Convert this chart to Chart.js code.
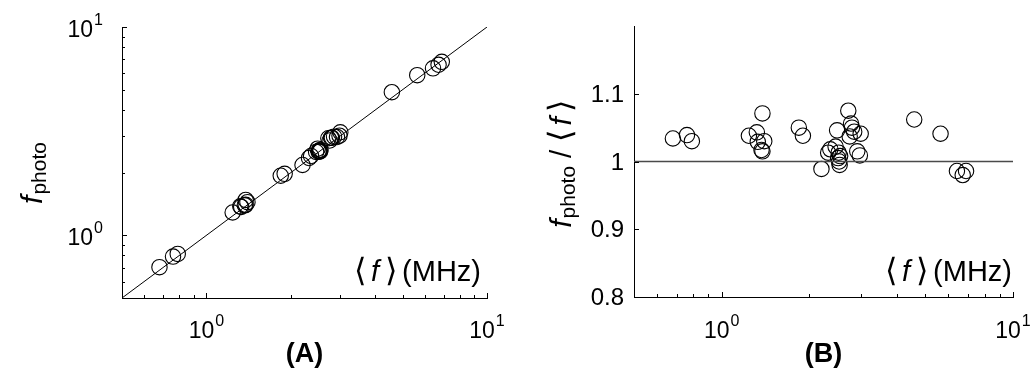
<!DOCTYPE html>
<html>
<head>
<meta charset="utf-8">
<script src="https://cdn.jsdelivr.net/npm/chart.js@4.4.1/dist/chart.umd.min.js"></script>
<style>
  html, body { margin: 0; padding: 0; background: #ffffff; }
  #wrap { position: relative; width: 1034px; height: 378px; overflow: hidden; }
  .panel { position: absolute; top: 0; height: 378px; }
</style>
</head>
<body>
<div id="wrap">
  <div class="panel" style="left:0;width:520px;"><canvas id="chartA" width="520" height="378"></canvas></div>
  <div class="panel" style="left:520px;width:514px;"><canvas id="chartB" width="514" height="378"></canvas></div>
</div>
<script>
// ---------------- data ----------------
// mean frequency <f> in MHz
const meanFreq = [0.68, 0.76, 0.79, 1.24, 1.32, 1.33, 1.38, 1.40, 1.37, 1.38,
                  1.84, 1.90, 2.20, 2.32, 2.36, 2.46, 2.49, 2.51, 2.53, 2.54,
                  2.55, 2.52, 2.72, 2.78, 2.80, 2.75, 2.85, 3.00, 2.92, 2.98,
                  4.58, 5.64, 6.42, 6.72, 6.90];
// f_photo in MHz (panel A)
const fPhoto = [0.703, 0.790, 0.814, 1.287, 1.377, 1.369, 1.478, 1.442, 1.393, 1.401,
                1.932, 1.972, 2.176, 2.350, 2.402, 2.514, 2.605, 2.523, 2.530, 2.527,
                2.570, 2.553, 2.924, 2.936, 2.940, 2.852, 2.975, 3.123, 2.964, 3.007,
                4.864, 5.871, 6.330, 6.586, 6.803];
// f_photo / <f> (panel B)
const ratio = [1.034, 1.039, 1.030, 1.038, 1.043, 1.029, 1.071, 1.030, 1.017, 1.015,
               1.050, 1.038, 0.989, 1.013, 1.018, 1.022, 1.046, 1.005, 1.000, 0.995,
               1.008, 1.013, 1.075, 1.056, 1.050, 1.037, 1.044, 1.041, 1.015, 1.009,
               1.062, 1.041, 0.986, 0.980, 0.986];

// identity line (panel A) and unity line (panel B)
const identityLine = [0.5, 10];
const unityLineX = [0.5, 10];
const unityLineY = [1, 1];

// axis ranges
const logRange = [0.5, 10];
const ratioRange = [0.8, 1.2];

// ticks
const logMinorTicks = [0.5, 0.6, 0.7, 0.8, 0.9, 2, 3, 4, 5, 6, 7, 8, 9];
const logMajorTicks = [1, 10];
const logTickBase = ['10', '10'];
const logTickExp = ['0', '1'];
const ratioTicks = [0.8, 0.9, 1, 1.1];
const ratioTickLabels = ['0.8', '0.9', '1', '1.1'];

// texts
const panelLabels = ['(A)', '(B)'];
const xAnnotation = { open: '\u27E8', f: 'f', close: '\u27E9', unit: '(MHz)' };
const yTitleA = { f: 'f', sub: 'photo' };
const yTitleB = { f: 'f', sub: 'photo', slash: '/', open: '\u27E8', f2: 'f', close: '\u27E9' };

// ---------------- helpers ----------------
const FONT = '"Liberation Sans", Arial, Helvetica, sans-serif';
const toXY = (xs, ys) => xs.map((x, i) => ({ x: x, y: ys[i] }));

function drawPow(ctx, base, exp, x, y, align) {
  ctx.font = '23px ' + FONT;
  const wb = ctx.measureText(base).width;
  ctx.font = '16px ' + FONT;
  const we = ctx.measureText(exp).width;
  const total = wb + we + 1;
  let x0 = align === 'center' ? x - total / 2 : (align === 'right' ? x - total : x);
  ctx.textAlign = 'left';
  ctx.textBaseline = 'alphabetic';
  ctx.font = '23px ' + FONT;
  ctx.fillText(base, x0, y);
  ctx.font = '16px ' + FONT;
  ctx.fillText(exp, x0 + wb + 1, y - 12);
}

// draw a run of text parts left to right
function drawRun(ctx, parts, x0, y0) {
  let x = x0;
  parts.forEach(p => {
    ctx.font = p.f;
    x += (p.pre || 0);
    ctx.fillText(p.t, x, y0 + (p.dy || 0));
    x += ctx.measureText(p.t).width + (p.post || 0);
  });
}
function runWidth(ctx, parts) {
  let total = 0;
  parts.forEach(p => { ctx.font = p.f; total += ctx.measureText(p.t).width + (p.pre || 0) + (p.post || 0); });
  return total;
}

function annotationParts() {
  const F = '29px ' + FONT;
  const B = '32px ' + FONT;
  return [
    { t: xAnnotation.open, f: B, post: 5 },
    { t: xAnnotation.f, f: 'italic ' + F, post: 6 },
    { t: xAnnotation.close, f: B, post: 5 },
    { t: xAnnotation.unit, f: F }
  ];
}
function drawAnnotation(ctx, rightX, baseY) {
  const parts = annotationParts();
  ctx.textAlign = 'left';
  ctx.textBaseline = 'alphabetic';
  drawRun(ctx, parts, rightX - runWidth(ctx, parts), baseY);
}

function drawRotated(ctx, cx, cy, parts) {
  ctx.save();
  ctx.translate(cx, cy);
  ctx.rotate(-Math.PI / 2);
  ctx.textAlign = 'left';
  ctx.textBaseline = 'alphabetic';
  drawRun(ctx, parts, -runWidth(ctx, parts) / 2, 0);
  ctx.restore();
}

function inwardTicks(ctx, scale, values, len, horizontal, area) {
  ctx.beginPath();
  values.forEach(v => {
    const p = Math.round(scale.getPixelForValue(v)) + 0.5;
    if (horizontal) {
      ctx.moveTo(p, area.bottom);
      ctx.lineTo(p, area.bottom - len);
    } else {
      ctx.moveTo(area.left, p);
      ctx.lineTo(area.left + len, p);
    }
  });
  ctx.stroke();
}

// ---------------- plugins ----------------
const decorA = {
  id: 'decorA',
  afterDraw(chart) {
    const { ctx, chartArea: a, scales: { x, y } } = chart;
    ctx.save();
    ctx.strokeStyle = '#000';
    ctx.lineWidth = 1;
    inwardTicks(ctx, x, logMinorTicks, 3, true, a);
    inwardTicks(ctx, x, logMajorTicks, 5, true, a);
    inwardTicks(ctx, y, logMinorTicks, 3, false, a);
    inwardTicks(ctx, y, logMajorTicks, 5, false, a);
    ctx.fillStyle = '#000';
    logMajorTicks.forEach((v, i) => {
      drawPow(ctx, logTickBase[i], logTickExp[i], x.getPixelForValue(v), a.bottom + 40, 'center');
      drawPow(ctx, logTickBase[i], logTickExp[i], a.left - 19, y.getPixelForValue(v) + 10, 'right');
    });
    drawAnnotation(ctx, a.right - 6, a.bottom - 17);
    ctx.font = 'bold 27px ' + FONT;
    ctx.textAlign = 'center';
    ctx.textBaseline = 'alphabetic';
    ctx.fillText(panelLabels[0], (a.left + a.right) / 2, 362);
    drawRotated(ctx, 42, 173, [
      { t: yTitleA.f, f: 'italic 30px ' + FONT, post: 1 },
      { t: yTitleA.sub, f: '21px ' + FONT, dy: 4 }
    ]);
    ctx.restore();
  }
};

const decorB = {
  id: 'decorB',
  afterDraw(chart) {
    const { ctx, chartArea: a, scales: { x, y } } = chart;
    ctx.save();
    ctx.strokeStyle = '#000';
    ctx.lineWidth = 1;
    inwardTicks(ctx, x, logMinorTicks, 3, true, a);
    inwardTicks(ctx, x, logMajorTicks, 5, true, a);
    inwardTicks(ctx, y, ratioTicks, 5, false, a);
    ctx.fillStyle = '#000';
    logMajorTicks.forEach((v, i) => {
      drawPow(ctx, logTickBase[i], logTickExp[i], x.getPixelForValue(v), a.bottom + 41, 'center');
    });
    ctx.font = '24px ' + FONT;
    ctx.textAlign = 'right';
    ctx.textBaseline = 'alphabetic';
    ratioTicks.forEach((v, i) => {
      ctx.fillText(ratioTickLabels[i], a.left - 10, y.getPixelForValue(v) + 8);
    });
    drawAnnotation(ctx, a.right - 1, a.bottom - 16);
    ctx.font = 'bold 27px ' + FONT;
    ctx.textAlign = 'center';
    ctx.fillText(panelLabels[1], (a.left + a.right) / 2, 362);
    drawRotated(ctx, 51, 164, [
      { t: yTitleB.f, f: 'italic 30px ' + FONT, post: 1 },
      { t: yTitleB.sub, f: '21px ' + FONT, dy: 4, post: 8 },
      { t: yTitleB.slash, f: '30px ' + FONT, post: 8 },
      { t: yTitleB.open, f: '32px ' + FONT, post: 4 },
      { t: yTitleB.f2, f: 'italic 30px ' + FONT, post: 5 },
      { t: yTitleB.close, f: '32px ' + FONT }
    ]);
    ctx.restore();
  }
};

// ---------------- common options ----------------
function axisBase(extra) {
  return Object.assign({
    grid: { display: false },
    border: { display: true, color: '#000', width: 1 },
    ticks: { display: false }
  }, extra);
}
const pointStyle = {
  pointRadius: 7.7,
  pointHoverRadius: 7.7,
  pointBorderWidth: 1.1,
  pointBorderColor: '#000',
  pointBackgroundColor: 'rgba(0,0,0,0)',
  showLine: false
};

new Chart(document.getElementById('chartA'), {
  type: 'scatter',
  data: {
    datasets: [
      Object.assign({ label: 'f_photo', data: toXY(meanFreq, fPhoto) }, pointStyle),
      { label: 'identity', data: toXY(identityLine, identityLine), showLine: true,
        borderColor: '#000', borderWidth: 1, pointRadius: 0, fill: false }
    ]
  },
  options: {
    responsive: false,
    animation: false,
    events: [],
    layout: { padding: { left: 0, top: 27, right: 33, bottom: 0 } },
    plugins: { legend: { display: false }, tooltip: { enabled: false } },
    scales: {
      x: axisBase({ type: 'logarithmic', min: logRange[0], max: logRange[1],
                    afterFit: s => { s.height = 80; } }),
      y: axisBase({ type: 'logarithmic', min: logRange[0], max: logRange[1],
                    afterFit: s => { s.width = 122; } })
    }
  },
  plugins: [decorA]
});

new Chart(document.getElementById('chartB'), {
  type: 'scatter',
  data: {
    datasets: [
      { label: 'unity', data: toXY(unityLineX, unityLineY), showLine: true,
        borderColor: '#4a4a4a', borderWidth: 1.3, pointRadius: 0, fill: false },
      Object.assign({ label: 'ratio', data: toXY(meanFreq, ratio) }, pointStyle)
    ]
  },
  options: {
    responsive: false,
    animation: false,
    events: [],
    layout: { padding: { left: 0, top: 26, right: 21, bottom: 0 } },
    plugins: { legend: { display: false }, tooltip: { enabled: false } },
    scales: {
      x: axisBase({ type: 'logarithmic', min: logRange[0], max: logRange[1],
                    afterFit: s => { s.height = 81; } }),
      y: axisBase({ type: 'linear', min: ratioRange[0], max: ratioRange[1],
                    afterFit: s => { s.width = 114; } })
    }
  },
  plugins: [decorB]
});
</script>
</body>
</html>
